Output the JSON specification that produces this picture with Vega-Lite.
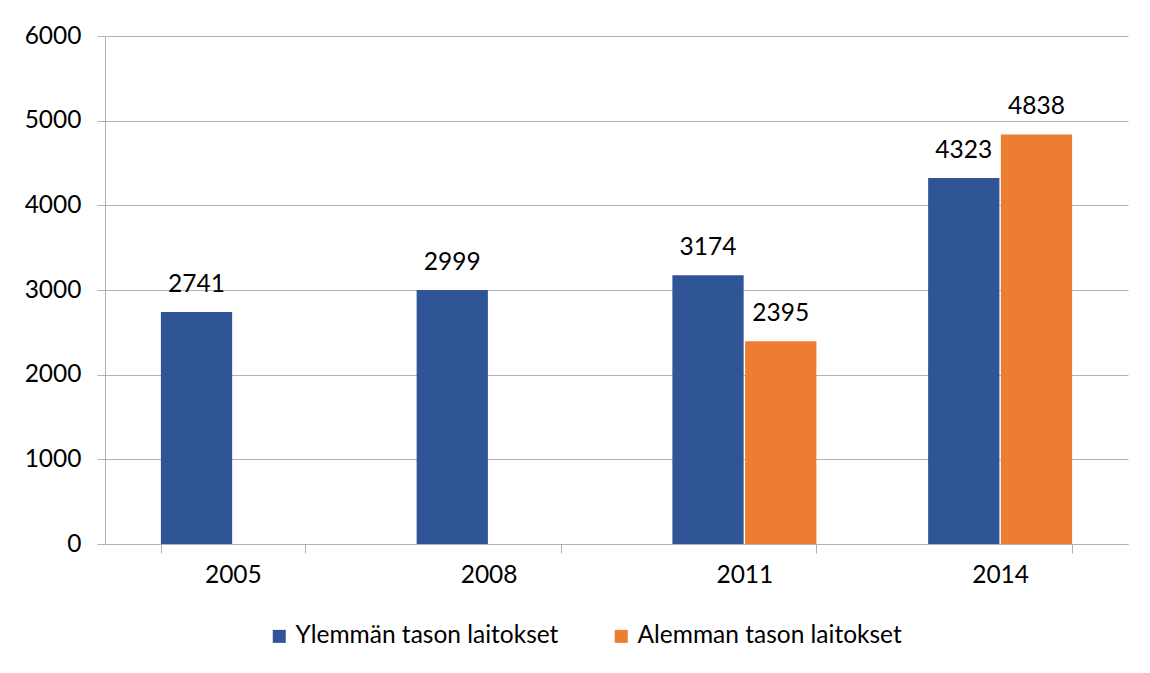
{
  "$schema": "https://vega.github.io/schema/vega-lite/v6.json",
  "width": 1023,
  "height": 508,
  "autosize": {"type": "none"},
  "padding": {"left": 105, "top": 36, "right": 22, "bottom": 129},
  "background": "white",
  "config": {
    "view": {"stroke": null},
    "font": "Lato",
    "axis": {"labelFont": "Lato", "labelFontSize": 24.5, "labelColor": "#000000"},
    "legend": {"labelFont": "Lato", "labelFontSize": 24.5, "labelColor": "#000000", "labelLimit": 500}
  },
  "data": {
    "values": [
      {"year": "2005", "series": "Ylemmän tason laitokset", "value": 2741},
      {"year": "2008", "series": "Ylemmän tason laitokset", "value": 2999},
      {"year": "2011", "series": "Ylemmän tason laitokset", "value": 3174},
      {"year": "2011", "series": "Alemman tason laitokset", "value": 2395},
      {"year": "2014", "series": "Ylemmän tason laitokset", "value": 4323},
      {"year": "2014", "series": "Alemman tason laitokset", "value": 4838}
    ]
  },
  "encoding": {
    "x": {
      "field": "year", "type": "nominal", "title": null,
      "scale": {"paddingInner": 0.437, "paddingOuter": 0.2185},
      "axis": {
        "labelAngle": 0, "tickBand": "extent", "domainColor": "#b3b3b3", "tickColor": "#b3b3b3",
        "tickSize": 9, "labelPadding": 10, "grid": false
      }
    },
    "xOffset": {
      "field": "series", "type": "nominal",
      "scale": {"domain": ["Ylemmän tason laitokset", "Alemman tason laitokset"], "paddingInner": 0.02}
    },
    "y": {
      "field": "value", "type": "quantitative", "title": null,
      "scale": {"domain": [0, 6000], "nice": false},
      "axis": {
        "values": [0, 1000, 2000, 3000, 4000, 5000, 6000],
        "gridColor": "#b3b3b3", "domainColor": "#b3b3b3", "tickColor": "#b3b3b3",
        "tickSize": 8, "labelPadding": 16, "format": "d"
      }
    }
  },
  "layer": [
    {
      "mark": {"type": "bar"},
      "encoding": {
        "color": {
          "field": "series", "type": "nominal",
          "scale": {"domain": ["Ylemmän tason laitokset", "Alemman tason laitokset"], "range": ["#2F5597", "#ED7D31"]},
          "legend": {
            "title": null, "orient": "none", "direction": "horizontal",
            "legendX": 162, "legendY": 588,
            "symbolType": "square", "symbolSize": 169, "symbolStrokeWidth": 0, "symbolOpacity": 1,
            "labelOffset": 4, "columnPadding": 50
          }
        }
      }
    },
    {
      "mark": {"type": "text", "baseline": "alphabetic", "dy": -20, "fontSize": 24.5, "font": "Lato", "color": "#000000"},
      "encoding": {
        "text": {"field": "value", "type": "quantitative", "format": "d"}
      }
    }
  ]
}
